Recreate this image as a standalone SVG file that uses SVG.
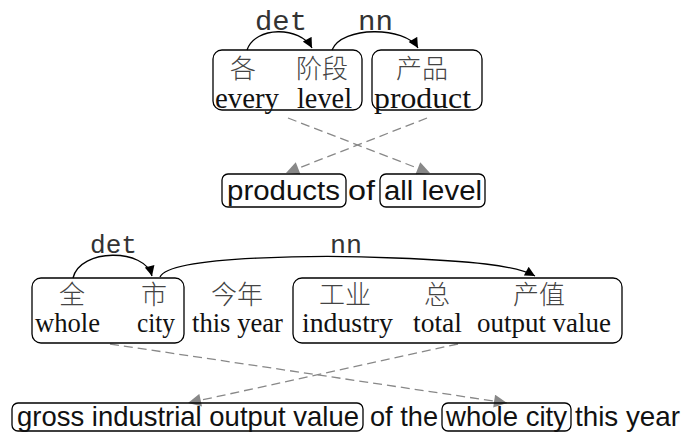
<svg xmlns="http://www.w3.org/2000/svg" width="681" height="432" viewBox="0 0 681 432">
<defs>
<style>
.box{fill:none;stroke:#000;stroke-width:1.3}
.zh{font-family:"Liberation Serif","Noto Sans CJK SC",serif;font-size:26px;font-weight:300;fill:#444;text-anchor:middle}
.en{font-family:"Liberation Serif",serif;fill:#111}
.ph{font-family:"Liberation Sans",Arial,sans-serif;fill:#111}
.lab{font-family:"Liberation Mono","Courier New",monospace;fill:#333}
.arc{fill:none;stroke:#000;stroke-width:1.3}
.dash{fill:none;stroke:#888;stroke-width:1.3;stroke-dasharray:9 5}
</style>
<marker id="ab" viewBox="0 0 10 10" refX="10" refY="5" markerWidth="11" markerHeight="10" markerUnits="userSpaceOnUse" orient="auto"><path d="M0,0L10,5L0,10z" fill="#000"/></marker>
<marker id="ag" viewBox="0 0 10 10" refX="10" refY="5" markerWidth="15" markerHeight="13" markerUnits="userSpaceOnUse" orient="auto"><path d="M0,0L10,5L0,10z" fill="#888"/></marker>
</defs>

<g id="connectors">
<path class="arc" d="M247,50 C255,26 300,26 312,48" marker-end="url(#ab)"/>
<path class="arc" d="M332,50 C342,26 405,26 418,48" marker-end="url(#ab)"/>
<path class="dash" d="M288,118 L430,173" marker-end="url(#ag)"/>
<path class="dash" d="M427,118 L286,173" marker-end="url(#ag)"/>
<path class="arc" d="M73,278 C80,248 145,248 152,276" marker-end="url(#ab)"/>
<path class="arc" d="M160,277 C170,255 330,255 395,258 C470,261 515,265 535,276" marker-end="url(#ab)"/>
<path class="dash" d="M110,344 L507,403" marker-end="url(#ag)"/>
<path class="dash" d="M458,344 L188,403" marker-end="url(#ag)"/>
</g>

<g id="labels">
<text class="lab" x="255" y="30" font-size="27" textLength="52" lengthAdjust="spacingAndGlyphs">det</text>
<text class="lab" x="358" y="30" font-size="27" textLength="35" lengthAdjust="spacingAndGlyphs">nn</text>
<text class="lab" x="90" y="253" font-size="25" textLength="47" lengthAdjust="spacingAndGlyphs">det</text>
<text class="lab" x="330" y="253" font-size="25" textLength="32" lengthAdjust="spacingAndGlyphs">nn</text>
</g>

<g id="node-every-level">
<rect class="box" x="213" y="50" width="149" height="60" rx="9"/>
<text class="zh" x="243" y="78">各</text>
<text class="zh" x="322" y="78">阶段</text>
<text class="en" x="215" y="108" font-size="29" textLength="64" lengthAdjust="spacingAndGlyphs">every</text>
<text class="en" x="297" y="108" font-size="29" textLength="55" lengthAdjust="spacingAndGlyphs">level</text>
</g>

<g id="node-product">
<rect class="box" x="372" y="50" width="110" height="60" rx="9"/>
<text class="zh" x="422" y="78">产品</text>
<text class="en" x="374" y="108" font-size="29" textLength="97" lengthAdjust="spacingAndGlyphs">product</text>
</g>

<g id="node-products">
<rect class="box" x="222" y="174" width="124" height="33" rx="6"/>
<text class="ph" x="227" y="200" font-size="27" textLength="113" lengthAdjust="spacingAndGlyphs">products</text>
</g>
<g id="word-of">
<text class="ph" x="348" y="200" font-size="27" textLength="27" lengthAdjust="spacingAndGlyphs">of</text>
</g>
<g id="node-all-level">
<rect class="box" x="380" y="174" width="105" height="33" rx="6"/>
<text class="ph" x="384" y="200" font-size="27" textLength="98" lengthAdjust="spacingAndGlyphs">all level</text>
</g>

<g id="node-whole-city">
<rect class="box" x="32" y="278" width="152" height="65" rx="9"/>
<text class="zh" x="72" y="304">全</text>
<text class="zh" x="154" y="304">市</text>
<text class="en" x="35" y="332" font-size="27" textLength="65" lengthAdjust="spacingAndGlyphs">whole</text>
<text class="en" x="137" y="332" font-size="27" textLength="38" lengthAdjust="spacingAndGlyphs">city</text>
</g>

<g id="node-this-year">
<text class="zh" x="237" y="304">今年</text>
<text class="en" x="192" y="332" font-size="27" textLength="91" lengthAdjust="spacingAndGlyphs">this year</text>
</g>

<g id="node-industry-total-output-value">
<rect class="box" x="293" y="278" width="329" height="65" rx="9"/>
<text class="zh" x="345" y="304">工业</text>
<text class="zh" x="437" y="304">总</text>
<text class="zh" x="539" y="304">产值</text>
<text class="en" x="302" y="332" font-size="27" textLength="91" lengthAdjust="spacingAndGlyphs">industry</text>
<text class="en" x="413" y="332" font-size="27" textLength="49" lengthAdjust="spacingAndGlyphs">total</text>
<text class="en" x="477" y="332" font-size="27" textLength="134" lengthAdjust="spacingAndGlyphs">output value</text>
</g>

<g id="node-gross-industrial-output-value">
<rect class="box" x="12" y="403" width="351" height="28" rx="6"/>
<text class="ph" x="17" y="426" font-size="28" textLength="342" lengthAdjust="spacingAndGlyphs">gross industrial output value</text>
</g>
<g id="word-of-the">
<text class="ph" x="370" y="426" font-size="28" textLength="68" lengthAdjust="spacingAndGlyphs">of the</text>
</g>
<g id="node-whole-city-en">
<rect class="box" x="442" y="403" width="129" height="28" rx="6"/>
<text class="ph" x="446" y="426" font-size="28" textLength="121" lengthAdjust="spacingAndGlyphs">whole city</text>
</g>
<g id="word-this-year">
<text class="ph" x="575" y="426" font-size="28" textLength="105" lengthAdjust="spacingAndGlyphs">this year</text>
</g>
</svg>
